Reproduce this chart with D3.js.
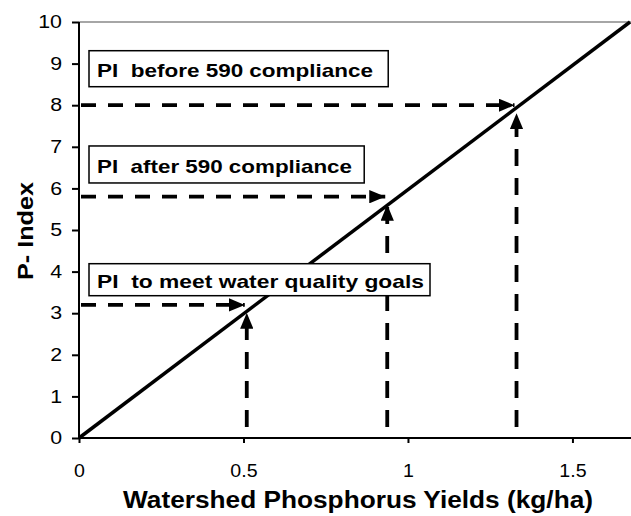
<!DOCTYPE html>
<html>
<head>
<meta charset="utf-8">
<script src="https://cdn.jsdelivr.net/npm/d3@7"></script>
<style>
  body { margin: 0; background: #fff; }
  svg { display: block; }
</style>
</head>
<body>
<svg id="chart" width="631" height="516"></svg>
<script>
// relation P-index vs yield (straight line through origin)
let lineX = [0, 1.675];
let lineY = [0, 10];

// reference points: label, yield, P-index
let labels = ["PI  before 590 compliance", "PI  after 590 compliance", "PI  to meet water quality goals"];
let yields = [1.33, 0.937, 0.51];
let pIndex = [8.0, 5.8, 3.2];

let xTicks = [0, 0.5, 1, 1.5];
let yTicks = [0, 1, 2, 3, 4, 5, 6, 7, 8, 9, 10];

// label box layout (in P-index / yield units, plus pixel height and text width)
let boxTop = [9.31, 7.02, 4.19];
let boxRight = [0.94, 0.867, 1.067];
let boxH = [36, 37, 32];
let textW = [276, 255, 327];
let textBase = [26, 27, 24];

let FONT = "Arial, 'Liberation Sans', sans-serif";
let margin = { top: 22, right: 0, bottom: 78, left: 79 };
let svg = d3.select("#chart");
let width = 631 - margin.left - margin.right;
let height = 516 - margin.top - margin.bottom;

let x = d3.scaleLinear().domain([0, 1.678]).range([0, width]);
let y = d3.scaleLinear().domain([0, 10]).range([height, 0]);

let g = svg.append("g").attr("transform", "translate(" + margin.left + "," + margin.top + ")");

// stretch text horizontally (the original was rendered wide)
function stretch(sel, factor)
{
  sel.each(function ()
  {
    let w = this.getComputedTextLength();
    d3.select(this)
      .attr("textLength", w * factor)
      .attr("lengthAdjust", "spacingAndGlyphs");
  });
}

// arrow marker
svg.append("defs").append("marker")
  .attr("id", "arrow")
  .attr("viewBox", "0 0 12 10")
  .attr("refX", 12).attr("refY", 5)
  .attr("markerWidth", 4.2).attr("markerHeight", 3.5)
  .attr("markerUnits", "strokeWidth")
  .attr("orient", "auto")
  .append("path")
  .attr("d", "M0,0 L12,5 L0,10 Z")
  .attr("fill", "#000");

// top border (gray)
g.append("line")
  .attr("x1", 0).attr("x2", width)
  .attr("y1", 0).attr("y2", 0)
  .style("stroke", "#888")
  .style("stroke-width", 1.5);

// axes
let yAxis = d3.axisLeft(y).tickValues(yTicks).tickSize(7).tickPadding(10).tickFormat(d3.format("d"));
let xAxis = d3.axisBottom(x).tickValues(xTicks).tickSize(5).tickPadding(22).tickFormat(function (d) { return String(d); });

let gy = g.append("g").call(yAxis);
let gx = g.append("g").attr("transform", "translate(0," + height + ")").call(xAxis);

[gx, gy].forEach(function (ax)
{
  ax.select(".domain").remove();
  ax.selectAll("line").style("stroke", "#000").style("stroke-width", 2);
  ax.selectAll("text")
    .style("font-family", FONT)
    .style("font-size", "17.5px")
    .style("fill", "#000");
});
stretch(gy.selectAll("text"), 1.22);
stretch(gx.selectAll("text"), 1.12);

// axis lines
g.append("line").attr("x1", 0).attr("x2", 0).attr("y1", 0).attr("y2", height)
  .style("stroke", "#000").style("stroke-width", 2);
g.append("line").attr("x1", 0).attr("x2", width).attr("y1", height).attr("y2", height)
  .style("stroke", "#000").style("stroke-width", 2);

// dashed guides with arrows
yields.forEach(function (v, i)
{
  // horizontal: from y axis to line
  g.append("line")
    .attr("x1", 2).attr("x2", x(v) - 2)
    .attr("y1", y(pIndex[i])).attr("y2", y(pIndex[i]))
    .style("stroke", "#000").style("stroke-width", 3.8)
    .style("stroke-dasharray", "15,12");
  g.append("line")
    .attr("x1", x(v) - 14).attr("x2", x(v) - 2)
    .attr("y1", y(pIndex[i])).attr("y2", y(pIndex[i]))
    .style("stroke", "none").style("stroke-width", 3.8)
    .attr("marker-end", "url(#arrow)");
  // vertical: from x axis up to line
  g.append("line")
    .attr("x1", x(v)).attr("x2", x(v))
    .attr("y1", y(0) - 11).attr("y2", y(pIndex[i]) + 8)
    .style("stroke", "#000").style("stroke-width", 3.8)
    .style("stroke-dasharray", "17,12");
  g.append("line")
    .attr("x1", x(v)).attr("x2", x(v))
    .attr("y1", y(pIndex[i]) + 20).attr("y2", y(pIndex[i]) + 8)
    .style("stroke", "none").style("stroke-width", 3.8)
    .attr("marker-end", "url(#arrow)");
});

// main line
let d3line = d3.line()
  .x(function (d) { return x(d[0]); })
  .y(function (d) { return y(d[1]); });

g.append("path")
  .attr("d", d3line(d3.zip(lineX, lineY)))
  .style("fill", "none")
  .style("stroke", "#000")
  .style("stroke-width", 3.5);

// label boxes
labels.forEach(function (t, i)
{
  let bx = 10;
  let by = y(boxTop[i]);
  let bw = x(boxRight[i]) - bx;
  g.append("rect")
    .attr("x", bx).attr("y", by)
    .attr("width", bw).attr("height", boxH[i])
    .style("fill", "#fff")
    .style("stroke", "#000")
    .style("stroke-width", 1.5);
  g.append("text")
    .attr("x", bx + 8).attr("y", by + textBase[i])
    .attr("textLength", textW[i])
    .attr("lengthAdjust", "spacingAndGlyphs")
    .text(t)
    .style("font-family", FONT)
    .style("font-weight", "bold")
    .style("font-size", "18.5px")
    .style("white-space", "pre")
    .attr("xml:space", "preserve");
});

// axis titles
svg.append("text")
  .attr("x", 123).attr("y", 508)
  .attr("textLength", 470)
  .attr("lengthAdjust", "spacingAndGlyphs")
  .text("Watershed Phosphorus Yields (kg/ha)")
  .style("font-family", FONT)
  .style("font-weight", "bold")
  .style("font-size", "23px");

svg.append("text")
  .attr("transform", "translate(33,280) rotate(-90)")
  .attr("textLength", 98)
  .attr("lengthAdjust", "spacingAndGlyphs")
  .text("P- Index")
  .style("font-family", FONT)
  .style("font-weight", "bold")
  .style("font-size", "22px");
</script>
</body>
</html>
